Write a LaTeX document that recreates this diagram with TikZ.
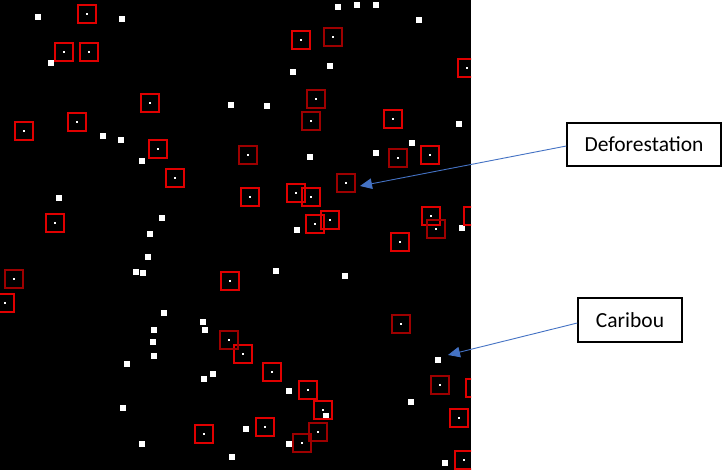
\documentclass[tikz,border=0pt]{standalone}
\usepackage{fontspec}
\setmainfont{Carlito}
\usetikzlibrary{arrows.meta}
\definecolor{sqred}{HTML}{E00000}
\definecolor{sqdark}{HTML}{9E0000}
\definecolor{arrowblue}{HTML}{4472C4}
\tikzset{
  labelbox/.style={draw=black, line width=1.3pt, fill=white, inner sep=0pt,
    font=\fontsize{21.5}{26}\selectfont},
  pointer/.style={draw=arrowblue, line width=0.9pt, -{Triangle[length=12pt,width=10.5pt]}},
  redsq/.style={draw=sqred, line width=1.2pt},
  darksq/.style={draw=sqdark, line width=1.2pt},
}
\begin{document}
\begin{tikzpicture}[x=1pt,y=-1pt]
\useasboundingbox (0,0) rectangle (727,470);
\fill[white] (0,0) rectangle (727,470);
\fill[black] (0,0) rectangle (471,470);
\begin{scope}
\clip (0,0) rectangle (471,470);
% white squares
\foreach \x/\y in {38/17,122/19,51/63,231/105,103/136,121/140,142/161,338/7,357/5,376/5,419/20,293/72,330/66,267/106,459/124,412/143,376/153,310/157,59/198,162/218,150/234,148/257,136/272,143/273,164/313,297/230,462/228,276/271,345/276,203/322,205/330,154/330,153/342,154/356,127/364,213/374,204/379,123/408,142/444,232/457,438/360,289/391,411/402,326/416,246/429,289/444,445/463}
  {\fill[white] (\x-3,\y-3) rectangle (\x+3,\y+3);}
% bright red squares
\foreach \x/\y in {87/14,64/52,89/52,150/103,77/122,24/131,158/149,301/40,467/68,393/119,430/155,175/178,55/223,5/303,230/281,296/193,311/197,315/224,330/220,250/197,431/216,473/216,400/242,243/354,272/372,308/390,323/410,475/388,459/418,265/427,464/460,204/434}
  {\draw[redsq] (\x-9,\y-9) rectangle (\x+9,\y+9);
   \fill[white] (\x-0.8,\y-0.8) rectangle (\x+0.8,\y+0.8);}
% dark red squares
\foreach \x/\y in {333/37,316/99,311/121,248/155,398/158,346/183,436/229,14/279,229/340,401/324,440/385,318/432,302/443}
  {\draw[darksq] (\x-9,\y-9) rectangle (\x+9,\y+9);
   \fill[white] (\x-0.8,\y-0.8) rectangle (\x+0.8,\y+0.8);}
\end{scope}
% labels
\node[labelbox, minimum width=154pt, minimum height=43pt] (defo) at (644,144.5) {Deforestation};
\node[labelbox, minimum width=104pt, minimum height=44pt] (cari) at (630,320) {Caribou};
\coordinate (defotip) at (360,186);
\coordinate (caritip) at (448,355);
\draw[pointer] ([yshift=-1.5pt]defo.west) -- (defotip);
\draw[pointer] ([yshift=-3pt]cari.west) -- (caritip);
\end{tikzpicture}
\end{document}
